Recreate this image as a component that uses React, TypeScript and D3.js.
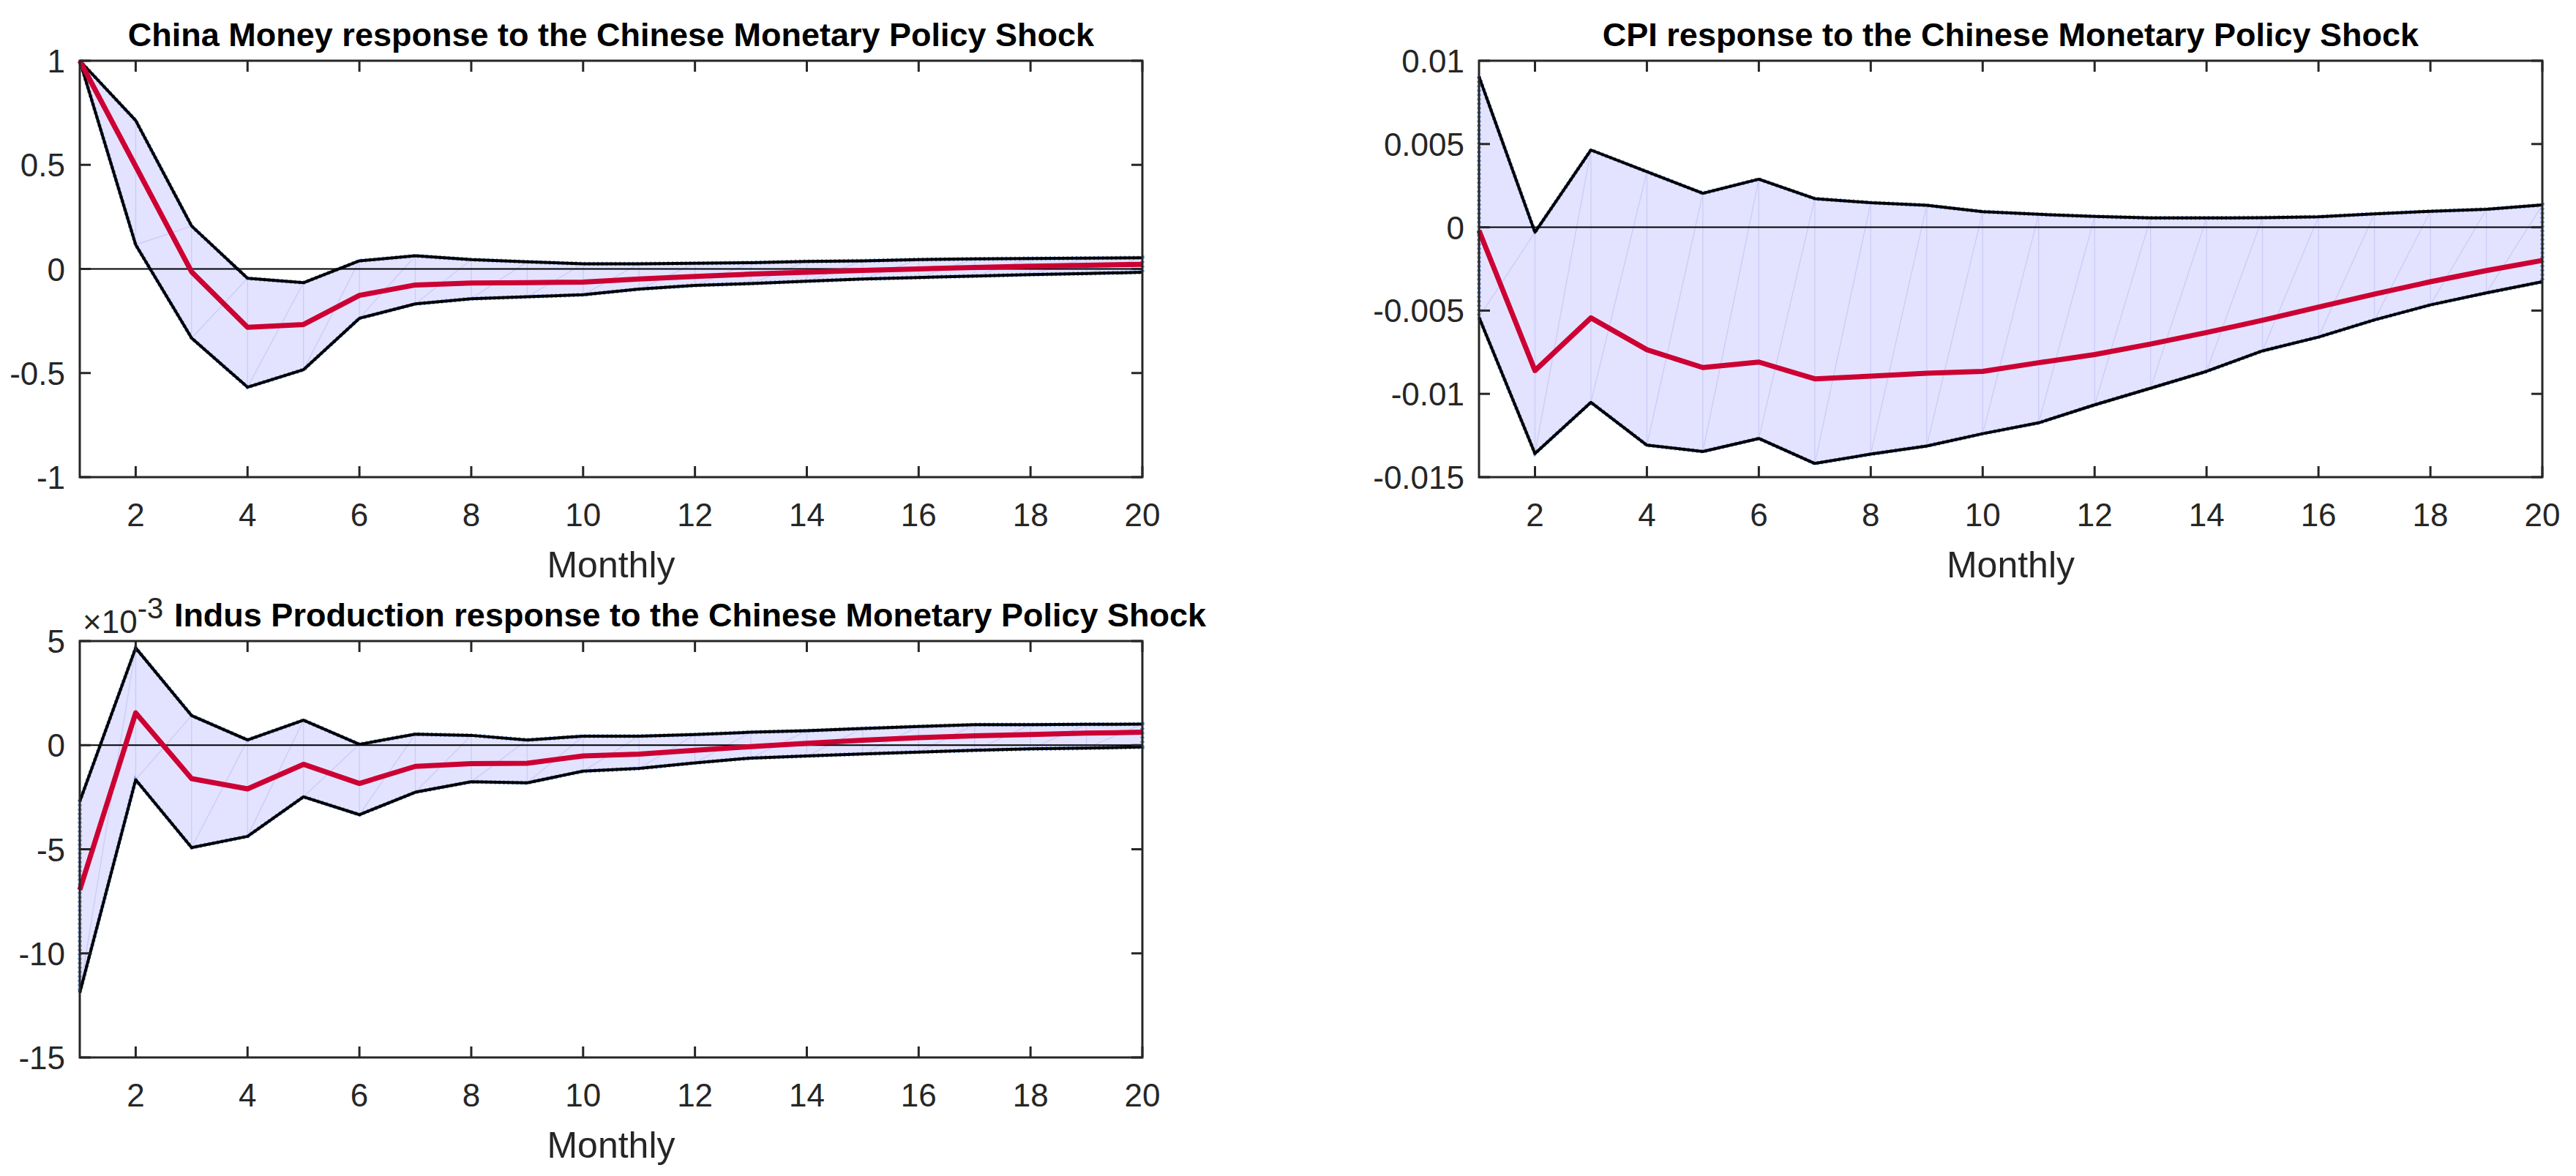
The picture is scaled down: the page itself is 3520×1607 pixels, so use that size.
import * as d3 from "d3";

// horizon (months)
const months = [1, 2, 3, 4, 5, 6, 7, 8, 9, 10, 11, 12, 13, 14, 15, 16, 17, 18, 19, 20];
const xTicks = [2, 4, 6, 8, 10, 12, 14, 16, 18, 20];

// China Money
const moneyUpper = [1.0, 0.713, 0.206, -0.045, -0.066, 0.039, 0.063, 0.045, 0.034, 0.025, 0.025, 0.027, 0.03, 0.036, 0.039, 0.045, 0.048, 0.05, 0.052, 0.054];
const moneyMid = [1.0, 0.493, -0.014, -0.28, -0.267, -0.127, -0.077, -0.068, -0.066, -0.063, -0.048, -0.036, -0.025, -0.016, -0.007, 0.0, 0.007, 0.013, 0.018, 0.022];
const moneyLower = [1.0, 0.116, -0.332, -0.568, -0.484, -0.237, -0.168, -0.143, -0.134, -0.124, -0.097, -0.079, -0.07, -0.059, -0.048, -0.041, -0.034, -0.027, -0.022, -0.016];
const moneyTicks = [-1, -0.5, 0, 0.5, 1];

// CPI
const cpiUpper = [0.00905, -0.0003, 0.00464, 0.00334, 0.00204, 0.00289, 0.00172, 0.00148, 0.00132, 0.00094, 0.00078, 0.00065, 0.00056, 0.00056, 0.00058, 0.00063, 0.00081, 0.00096, 0.00108, 0.00134];
const cpiMid = [-0.0002, -0.0086, -0.00544, -0.00735, -0.00842, -0.00809, -0.0091, -0.00894, -0.00876, -0.00865, -0.00813, -0.00764, -0.00701, -0.00632, -0.00558, -0.00479, -0.00401, -0.00327, -0.0026, -0.00199];
const cpiLower = [-0.0054, -0.01358, -0.01051, -0.01308, -0.01346, -0.01268, -0.01418, -0.01362, -0.01313, -0.01239, -0.01174, -0.01066, -0.00966, -0.00865, -0.00742, -0.00659, -0.00556, -0.00466, -0.00394, -0.00327];
const cpiTicks = [-0.015, -0.01, -0.005, 0, 0.005, 0.01];

// Industrial production (x 10^-3)
const indUpper = [-2.7, 4.67, 1.42, 0.25, 1.2, 0.04, 0.53, 0.47, 0.25, 0.43, 0.43, 0.51, 0.62, 0.69, 0.8, 0.9, 0.98, 0.98, 1.0, 1.01];
const indMid = [-6.95, 1.55, -1.61, -2.1, -0.92, -1.84, -1.02, -0.89, -0.87, -0.52, -0.43, -0.25, -0.07, 0.09, 0.24, 0.36, 0.45, 0.51, 0.58, 0.62];
const indLower = [-11.89, -1.66, -4.92, -4.38, -2.48, -3.34, -2.26, -1.76, -1.81, -1.25, -1.12, -0.85, -0.62, -0.52, -0.42, -0.33, -0.25, -0.18, -0.14, -0.09];
const indTicks = [-15, -10, -5, 0, 5];

const FONT = "'Liberation Sans', Arial, Helvetica, sans-serif";
const AXIS_COLOR = "#262626";
const FILL = "#e3e3ff";
const RED = "#cc0033";
const TICK_FS = 44;

type PanelProps = {
  left: number;
  right: number;
  top: number;
  bottom: number;
  title: string;
  titleX?: number;
  upper: number[];
  mid: number[];
  lower: number[];
  yDomain: [number, number];
  yTicks: number[];
  exponent?: string;
};

const Panel = ({ left, right, top, bottom, title, titleX, upper, mid, lower, yDomain, yTicks, exponent }: PanelProps) => {
  const x = d3.scaleLinear().domain([1, 20]).range([left, right]);
  const y = d3.scaleLinear().domain(yDomain).range([bottom, top]);

  const pts = months.map((m, i) => ({ m, u: upper[i], c: mid[i], l: lower[i] }));
  const band = d3
    .area<(typeof pts)[0]>()
    .x((d) => x(d.m))
    .y0((d) => y(d.l))
    .y1((d) => y(d.u));
  const line = (key: "u" | "c" | "l") =>
    d3
      .line<(typeof pts)[0]>()
      .x((d) => x(d.m))
      .y((d) => y(d[key]))(pts) as string;

  const tickLen = 15;

  return (
    <g>
      {/* shaded band */}
      <path d={band(pts) as string} fill={FILL} stroke="#5a8ee8" strokeWidth={5.5} strokeDasharray="2,4" />
      {/* faint triangulation seams of the patch */}
      {pts.map((d, i) => (
        <line key={"v" + i} x1={x(d.m)} x2={x(d.m)} y1={y(d.l)} y2={y(d.u)} stroke="#cdcdf6" strokeWidth={1.4} />
      ))}
      {pts.slice(0, -1).map((d, i) => (
        <line
          key={"dg" + i}
          x1={x(d.m)}
          y1={y(d.l)}
          x2={x(pts[i + 1].m)}
          y2={y(pts[i + 1].u)}
          stroke="#cdcdf6"
          strokeWidth={1.4}
        />
      ))}
      {/* zero line */}
      <line x1={left} x2={right} y1={y(0)} y2={y(0)} stroke="#000" strokeWidth={2} />
      <path d={line("u")} fill="none" stroke="#000" strokeWidth={4} strokeLinejoin="round" />
      <path d={line("l")} fill="none" stroke="#000" strokeWidth={4} strokeLinejoin="round" />
      <path d={line("c")} fill="none" stroke={RED} strokeWidth={7} strokeLinejoin="round" />

      {/* box */}
      <rect x={left} y={top} width={right - left} height={bottom - top} fill="none" stroke={AXIS_COLOR} strokeWidth={3} />
      {xTicks.map((t) => (
        <g key={"xt" + t}>
          <line x1={x(t)} x2={x(t)} y1={bottom} y2={bottom - tickLen} stroke={AXIS_COLOR} strokeWidth={3} />
          <line x1={x(t)} x2={x(t)} y1={top} y2={top + tickLen} stroke={AXIS_COLOR} strokeWidth={3} />
          <text x={x(t)} y={bottom + 67} textAnchor="middle" fontSize={TICK_FS} fill={AXIS_COLOR} fontFamily={FONT}>
            {t}
          </text>
        </g>
      ))}
      {yTicks.map((t) => (
        <g key={"yt" + t}>
          <line x1={left} x2={left + tickLen} y1={y(t)} y2={y(t)} stroke={AXIS_COLOR} strokeWidth={3} />
          <line x1={right} x2={right - tickLen} y1={y(t)} y2={y(t)} stroke={AXIS_COLOR} strokeWidth={3} />
          <text x={left - 20} y={y(t) + 16} textAnchor="end" fontSize={TICK_FS} fill={AXIS_COLOR} fontFamily={FONT}>
            {String(t)}
          </text>
        </g>
      ))}
      {exponent && (
        <text x={left + 4} y={top - 11} fontSize={TICK_FS} fill={AXIS_COLOR} fontFamily={FONT}>
          {"\u00d710"}
          <tspan dy={-20} fontSize={40}>
            {exponent}
          </tspan>
        </text>
      )}
      <text
        x={titleX ?? (left + right) / 2}
        y={top - 20}
        textAnchor="middle"
        fontSize={45}
        fontWeight="bold"
        fill="#000"
        fontFamily={FONT}
      >
        {title}
      </text>
      <text x={(left + right) / 2} y={bottom + 137} textAnchor="middle" fontSize={50} fill={AXIS_COLOR} fontFamily={FONT}>
        Monthly
      </text>
    </g>
  );
};

export default function App() {
  return (
    <svg
      width={3520}
      height={1607}
      style={{ position: "absolute", left: 0, top: 0, background: "#fff" }}
    >
      <rect width={3520} height={1607} fill="#fff" />
      <Panel
        left={109}
        right={1561}
        top={83}
        bottom={652}
        title="China Money response to the Chinese Monetary Policy Shock"
        upper={moneyUpper}
        mid={moneyMid}
        lower={moneyLower}
        yDomain={[-1, 1]}
        yTicks={moneyTicks}
      />
      <Panel
        left={2021}
        right={3474}
        top={83}
        bottom={652}
        title="CPI response to the Chinese Monetary Policy Shock"
        upper={cpiUpper}
        mid={cpiMid}
        lower={cpiLower}
        yDomain={[-0.015, 0.01]}
        yTicks={cpiTicks}
      />
      <Panel
        left={109}
        right={1561}
        top={876}
        bottom={1445}
        title="Indus Production response to the Chinese Monetary Policy Shock"
        titleX={943}
        upper={indUpper}
        mid={indMid}
        lower={indLower}
        yDomain={[-15, 5]}
        yTicks={indTicks}
        exponent="-3"
      />
    </svg>
  );
}
